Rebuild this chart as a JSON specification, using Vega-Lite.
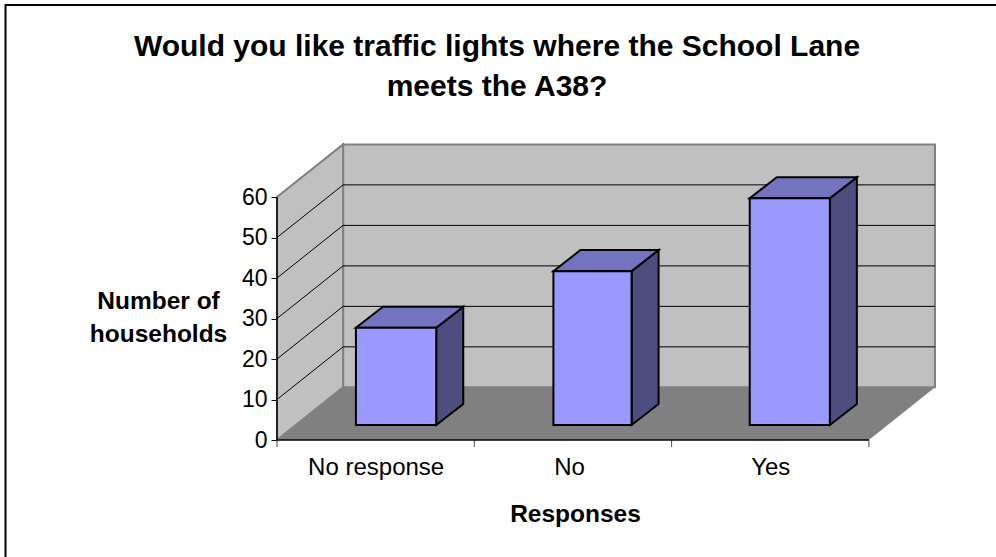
{
"$schema":"https://vega.github.io/schema/vega-lite/v6.json",
"autosize":"none","width":658,"height":295,
"padding":{"left":277,"top":145,"right":61,"bottom":117},
"background":"white",
"title":{"text":["Would you like traffic lights where the School Lane","meets the A38?"],"font":"Liberation Sans","fontSize":30,"fontWeight":"bold","color":"black","frame":"group","anchor":"start","align":"center","baseline":"alphabetic","dx":220,"offset":-122,"lineHeight":40},
"config":{"view":{"stroke":null},"font":"Liberation Sans"},
"datasets":{
"bars":[{"response":"No response","households":24,"left":0.4,"right":0.807},{"response":"No","households":38,"left":1.401,"right":1.797},{"response":"Yes","households":56,"left":2.396,"right":2.802}],
"frame":[{"x":-1.376,"x2":4,"y":-35,"y2":107.4}],
"wall":[{"x":0.335,"x2":3.335,"y":13,"y2":73}],
"floor":[{"x":0,"low":0,"high":0},{"x":0.335,"low":0,"high":13},{"x":3,"low":0,"high":13},{"x":3.335,"low":13,"high":13}],
"side":[{"x":0,"low":0,"high":60},{"x":0.335,"low":13,"high":73}],
"grid":[{"v":10},{"v":20},{"v":30},{"v":40},{"v":50}],
"ticks":[{"t":0},{"t":1},{"t":2},{"t":3}]
},
"layer":[
{"data":{"name":"frame"},"mark":{"type":"rect","fill":null,"stroke":"black","strokeWidth":2,"clip":false},
"encoding":{"x":{"field":"x","type":"quantitative","scale":{"domain":[0,3.335],"nice":false,"zero":false,"clamp":false},
"axis":{"values":[0.5,1.48,2.5],"labelExpr":"datum.value<1?'No response':datum.value<2?'No':'Yes'","title":"Responses","titleFont":"Liberation Sans","titleFontSize":24.5,"titleFontWeight":"bold","titleColor":"black","titlePadding":23,"titleX":298,"titleAnchor":"middle","labelFont":"Liberation Sans","labelFontSize":24,"labelColor":"black","labelPadding":15,"tickSize":0,"domain":false,"grid":false,"labelOverlap":false}},
"x2":{"field":"x2"},
"y":{"field":"y","type":"quantitative","scale":{"domain":[0,72.85],"nice":false,"zero":false},
"axis":{"values":[0,10,20,30,40,50,60],"title":["Number of","households"],"titleAngle":0,"titleFont":"Liberation Sans","titleFontSize":24.5,"titleFontWeight":"bold","titleColor":"black","titleAlign":"center","titleBaseline":"middle","titleX":-119,"titleY":156,"titleLineHeight":33,"labelFont":"Liberation Sans","labelFontSize":23,"labelColor":"black","labelPadding":4,"tickSize":6,"tickColor":"black","tickWidth":1,"domain":false,"grid":false}},
"y2":{"field":"y2"}}},
{"data":{"name":"wall"},"mark":{"type":"rect","fill":"#C0C0C0","stroke":"#808080","strokeWidth":2},"encoding":{"x":{"field":"x","type":"quantitative"},"x2":{"field":"x2"},"y":{"field":"y","type":"quantitative"},"y2":{"field":"y2"}}},
{"data":{"name":"side"},"mark":{"type":"area","fill":"#C0C0C0","stroke":"#808080","strokeWidth":2,"orient":"vertical"},"encoding":{"x":{"field":"x","type":"quantitative"},"y":{"field":"low","type":"quantitative"},"y2":{"field":"high"}}},
{"data":{"name":"floor"},"mark":{"type":"area","fill":"#808080","orient":"vertical"},"encoding":{"x":{"field":"x","type":"quantitative"},"y":{"field":"low","type":"quantitative"},"y2":{"field":"high"}}},
{"data":{"name":"grid"},"transform":[{"calculate":"0.335","as":"a"},{"calculate":"3.335","as":"b"},{"calculate":"datum.v+13","as":"yy"}],"mark":{"type":"rule","color":"black","strokeWidth":1},"encoding":{"x":{"field":"a","type":"quantitative"},"x2":{"field":"b"},"y":{"field":"yy","type":"quantitative"}}},
{"data":{"name":"grid"},"transform":[{"calculate":"0","as":"a"},{"calculate":"0.335","as":"b"},{"calculate":"datum.v+13","as":"yy"}],"mark":{"type":"rule","color":"black","strokeWidth":1},"encoding":{"x":{"field":"a","type":"quantitative"},"x2":{"field":"b"},"y":{"field":"v","type":"quantitative"},"y2":{"field":"yy"}}},
{"data":{"values":[{"a":0,"b":3,"c":0}]},"mark":{"type":"rule","color":"black","strokeWidth":1.5},"encoding":{"x":{"field":"a","type":"quantitative"},"x2":{"field":"b"},"y":{"field":"c","type":"quantitative"}}},
{"data":{"values":[{"a":0,"c":0,"d":60}]},"mark":{"type":"rule","color":"black","strokeWidth":1.5},"encoding":{"x":{"field":"a","type":"quantitative"},"y":{"field":"c","type":"quantitative"},"y2":{"field":"d"}}},
{"data":{"name":"ticks"},"mark":{"type":"tick","orient":"vertical","color":"black","size":7,"thickness":1,"yOffset":3.5,"clip":false},"encoding":{"x":{"field":"t","type":"quantitative"},"y":{"datum":0,"type":"quantitative"}}},
{"data":{"name":"bars"},"transform":[{"fold":["front","back"],"as":["k","_v"]},{"calculate":"datum.right+(datum.k=='back'?0.137:0)","as":"sx"},{"calculate":"3.7+(datum.k=='back'?5.2:0)","as":"sy"},{"calculate":"datum.sy+datum.households","as":"sy2"}],
"mark":{"type":"area","fill":"#4D4D80","stroke":"black","strokeWidth":2,"orient":"vertical"},"encoding":{"detail":{"field":"response"},"x":{"field":"sx","type":"quantitative"},"y":{"field":"sy","type":"quantitative"},"y2":{"field":"sy2"}}},
{"data":{"name":"bars"},"transform":[{"fold":["front","back"],"as":["k","_v"]},{"calculate":"(datum.k=='back'?0.137:0)","as":"sh"},{"calculate":"datum.left+datum.sh","as":"tx"},{"calculate":"datum.right+datum.sh","as":"tx2"},{"calculate":"3.7+datum.households+(datum.k=='back'?5.2:0)","as":"ty"}],
"mark":{"type":"area","fill":"#7373BF","stroke":"black","strokeWidth":2,"orient":"horizontal"},"encoding":{"detail":{"field":"response"},"y":{"field":"ty","type":"quantitative"},"x":{"field":"tx","type":"quantitative"},"x2":{"field":"tx2"}}},
{"data":{"name":"bars"},"transform":[{"calculate":"3.7","as":"base"},{"calculate":"3.7+datum.households","as":"top"}],"mark":{"type":"rect","fill":"#9999FF","stroke":"black","strokeWidth":2},"encoding":{"x":{"field":"left","type":"quantitative"},"x2":{"field":"right"},"y":{"field":"base","type":"quantitative"},"y2":{"field":"top"}}}
]
}
